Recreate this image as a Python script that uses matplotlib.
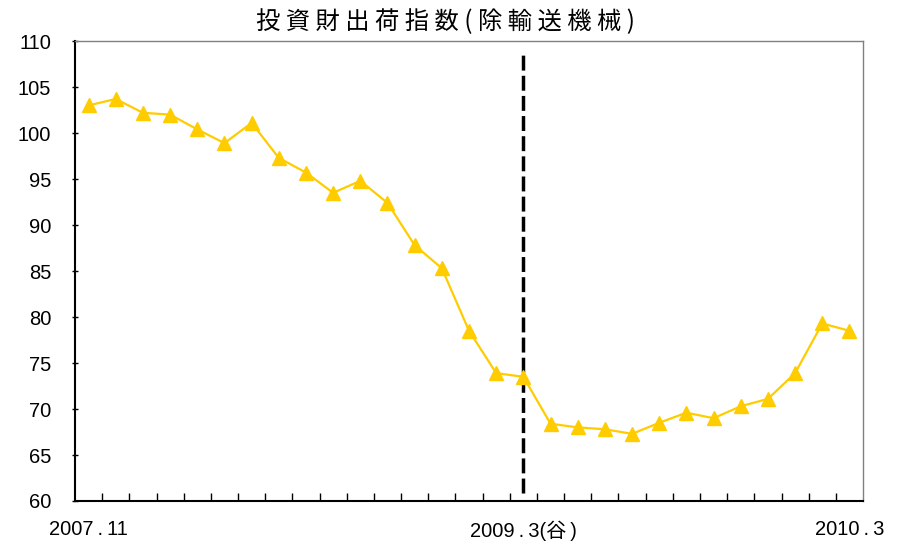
import matplotlib
matplotlib.use('Agg')
import matplotlib.pyplot as plt
import numpy as np

plt.rcParams['font.family'] = ['Liberation Sans', 'Noto Sans CJK JP', 'DejaVu Sans']

# 2007.11 - 2010.3 monthly
index_values = [103.0, 103.7, 102.2, 102.0, 100.4, 98.9, 101.1, 97.3, 95.7, 93.5,
                94.8, 92.4, 87.8, 85.3, 78.5, 73.9, 73.5, 68.4, 68.0, 67.8,
                67.3, 68.5, 69.6, 69.0, 70.3, 71.1, 73.9, 79.3, 78.5]
label_pos = [0, 16, 28]
label_text = ['2007\u2009.\u200911', '2009\u2009.\u20093(谷\u2009)', '2010\u2009.\u20093']
trough_pos = 16

x = np.arange(len(index_values))

fig = plt.figure(figsize=(8.99, 5.47), dpi=100)
ax = fig.add_axes([0.0834, 0.0841, 0.8766, 0.8409])

ax.plot(x, index_values, color='#FFCC00', lw=1.6, marker='^', markersize=9.5,
        markeredgecolor='#FFCC00', zorder=3)
ax.plot([trough_pos, trough_pos], [60.9, 109.0], color='black', lw=2.5,
        linestyle=(0, (4.3, 1.5)), zorder=2)

ax.set_xlim(-0.5, len(index_values) - 0.5)
ax.set_ylim(60, 110)
ax.set_yticks(range(60, 111, 5))
ax.set_yticklabels([str(v) for v in range(60, 111, 5)], fontsize=14.5,
                   family='Liberation Sans')
ax.tick_params(axis='y', direction='inout', length=4, width=1, pad=15)

ax.set_xticks(label_pos)
ax.set_xticklabels(label_text, fontsize=14.5,
                   family=['Liberation Sans', 'Noto Sans CJK JP', 'DejaVu Sans'])
ax.tick_params(axis='x', which='major', length=0, pad=14)
ax.set_xticks(np.arange(0.5, len(index_values) - 0.5, 1), minor=True)
ax.tick_params(axis='x', which='minor', direction='in', length=6, width=1)

for s in ['left', 'bottom']:
    ax.spines[s].set_linewidth(1.5)
    ax.spines[s].set_color('black')
for s in ['top', 'right']:
    ax.spines[s].set_linewidth(1)
    ax.spines[s].set_color('#808080')

fig.text(0.495, 0.959, '投 資 財 出 荷 指 数 ( 除 輸 送 機 械 )', ha='center', va='center',
         fontsize=17.5, family=['Noto Sans CJK JP', 'DejaVu Sans'])

fig.savefig('out.png', dpi=100)
